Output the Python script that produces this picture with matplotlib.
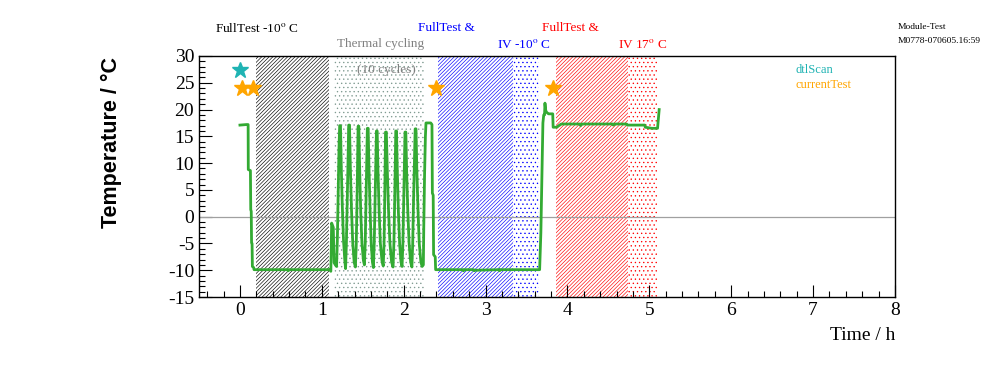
import matplotlib
matplotlib.use("Agg")
import matplotlib.pyplot as plt
from matplotlib.ticker import MultipleLocator

# ---------------- data ----------------
time_h = [0.00, 0.08, 0.10, 0.102, 0.128, 0.132, 0.138, 0.142, 0.148, 0.152, 0.168, 0.172,
          0.58, 0.59, 0.60, 1.10, 1.11, 1.12, 1.14, 1.15, 1.165,
          1.180, 1.190, 1.200, 1.210, 1.218, 1.228, 1.238, 1.250, 1.265, 1.280, 1.290,
          1.300, 1.312, 1.322, 1.328, 1.338, 1.348, 1.362, 1.378, 1.395, 1.410,
          1.420, 1.430, 1.438, 1.443, 1.452, 1.462, 1.475, 1.490, 1.508, 1.520,
          1.530, 1.540, 1.550, 1.556, 1.566, 1.576, 1.590, 1.603, 1.618, 1.630,
          1.640, 1.650, 1.660, 1.667, 1.676, 1.686, 1.700, 1.715, 1.735, 1.750,
          1.760, 1.768, 1.774, 1.778, 1.788, 1.800, 1.815, 1.832, 1.852, 1.870,
          1.880, 1.890, 1.898, 1.903, 1.912, 1.922, 1.935, 1.950, 1.967, 1.980,
          1.990, 2.000, 2.010, 2.016, 2.026, 2.036, 2.050, 2.066, 2.085, 2.100,
          2.110, 2.120, 2.132, 2.140, 2.150, 2.160, 2.175, 2.190, 2.210, 2.225,
          2.240, 2.245, 2.255, 2.265, 2.272, 2.330, 2.345, 2.350, 2.360, 2.365, 2.385, 2.390,
          2.72, 2.73, 2.74, 2.855, 2.86, 2.875, 3.165, 3.17, 3.18, 3.66,
          3.675, 3.690, 3.700, 3.710, 3.720, 3.725, 3.735, 3.745, 3.760, 3.770, 3.820,
          3.825, 3.870, 3.885, 3.925, 4.150, 4.160, 4.175, 4.55, 4.56, 4.57, 4.72, 4.73,
          4.945, 4.95, 5.03, 5.10, 5.12]
temp_c = [17.1, 17.2, 17.2, 8.8, 8.6, 1.3, 1.0, -4.9, -5.0, -9.3, -9.5, -9.9,
          -9.9, -10.1, -9.9, -9.9, -10.2, -1.2, -2.0, -8.6, -9.0,
          -9.3, -4.0, 5.0, 13.0, 17.0, 17.0, 9.0, 2.0, -4.5, -8.0, -9.7,
          -5.0, 4.0, 12.0, 17.1, 17.1, 9.5, 1.5, -5.0, -8.5, -9.4,
          -5.5, 3.0, 11.0, 16.9, 16.9, 9.0, 1.0, -5.0, -8.2, -9.0,
          -5.0, 3.5, 11.0, 16.5, 16.5, 9.0, 1.0, -5.0, -8.5, -9.5,
          -5.0, 3.0, 10.5, 16.0, 16.0, 8.5, 1.0, -5.0, -8.3, -9.2,
          -5.0, 3.0, 10.5, 15.8, 15.8, 8.5, 1.0, -5.0, -8.5, -9.4,
          -5.0, 3.0, 11.0, 16.0, 16.0, 8.5, 1.0, -5.0, -8.5, -9.3,
          -5.0, 3.0, 10.5, 15.8, 15.8, 8.5, 1.0, -5.0, -8.5, -9.4,
          -5.0, 3.0, 11.0, 16.4, 16.4, 9.0, 1.0, -5.0, -8.5, -9.3,
          -9.0, -2.0, 8.0, 15.0, 17.5, 17.5, 17.2, 4.4, 4.0, -7.1, -7.5, -9.9,
          -9.9, -10.1, -9.9, -9.9, -10.1, -10.0, -9.9, -10.1, -9.9, -9.9,
          -3.0, 10.0, 17.5, 19.0, 19.0, 21.2, 19.8, 19.5, 19.3, 19.2, 19.2,
          16.7, 16.7, 16.9, 17.3, 17.3, 17.0, 17.3, 17.3, 17.1, 17.3, 17.3, 17.1,
          17.1, 16.7, 16.5, 16.5, 20.0]

dtlscan_t = [0.00]
dtlscan_y = [27.4]
current_t = [0.02, 0.16, 2.40, 3.825]
current_y = [24.0, 24.0, 24.0, 24.0]

# shaded periods (start, end)
fulltest_m10 = (0.195, 1.087)
thermal_cyc = (1.148, 2.247)
blue_hatch = (2.418, 3.333)
blue_dots = (3.333, 3.65)
red_hatch = (3.858, 4.737)
red_dots = (4.737, 5.09)

x_range = (-0.5, 8.0)
y_range = (-15, 30)

# ---------------- style ----------------
plt.rcParams['font.family'] = ['Liberation Serif', 'DejaVu Serif']
plt.rcParams['mathtext.fontset'] = 'stix'
plt.rcParams['axes.unicode_minus'] = False
plt.rcParams['hatch.linewidth'] = 0.45

W, H = 996, 372
fig = plt.figure(figsize=(W / 100, H / 100), dpi=100)
ax = fig.add_axes([199 / W, 1 - 297 / H, (895 - 199) / W, (297 - 56) / H])

HATCH = '/' * 9
DOTS = '....'
ax.axvspan(*fulltest_m10, facecolor='none', edgecolor='black', hatch=HATCH, linewidth=0)
ax.axvspan(*thermal_cyc, facecolor='none', edgecolor='#7f9a90', hatch=DOTS, linewidth=0)
ax.axvspan(*blue_hatch, facecolor='none', edgecolor='blue', hatch=HATCH, linewidth=0)
ax.axvspan(*blue_dots, facecolor='none', edgecolor='blue', hatch=DOTS, linewidth=0)
ax.axvspan(*red_hatch, facecolor='none', edgecolor='red', hatch=HATCH, linewidth=0)
ax.axvspan(*red_dots, facecolor='none', edgecolor='red', hatch=DOTS, linewidth=0)

ax.axhline(0, color='#a0a0a0', linewidth=0.9, zorder=2)
ax.plot(time_h, temp_c, color='#33aa33', linewidth=2.0, zorder=3)
ax.plot(dtlscan_t, dtlscan_y, linestyle='none', marker='*', markersize=12,
        color='#1fb3b3', zorder=4)
ax.plot(current_t, current_y, linestyle='none', marker='*', markersize=12,
        color='#ffa500', zorder=4)

ax.set_xlim(*x_range)
ax.set_ylim(*y_range)
ax.xaxis.set_major_locator(MultipleLocator(1))
ax.xaxis.set_minor_locator(MultipleLocator(0.2))
ax.yaxis.set_major_locator(MultipleLocator(5))
ax.yaxis.set_minor_locator(MultipleLocator(1))
ax.tick_params(which='both', direction='in', top=False, right=False, labelsize=14)
ax.tick_params(which='major', length=9, width=0.8)
ax.tick_params(which='minor', length=4.5, width=0.8)
for s in ax.spines.values():
    s.set_linewidth(1.0)

ax.set_ylabel('Temperature / °C', family=['Liberation Sans', 'DejaVu Sans'],
              fontweight='bold', fontsize=15.5)
ax.yaxis.set_label_coords(-0.11, 0.643)
fig.text(895 / W, 1 - 335 / H, 'Time / h', ha='right', va='center', fontsize=14)


def ftext(x, y, s, color='black', size=9.5):
    fig.text(x / W, 1 - y / H, s, ha='left', va='center', color=color, fontsize=size)


ftext(215, 28, 'FullTest -10$^{\\rm o}$ C')
ftext(337, 44, 'Thermal cycling', color='#808080')
ftext(357, 70, '(10 cycles)', color='#808080')
ftext(418, 28, 'FullTest &', color='blue')
ftext(497, 44, 'IV -10$^{\\rm o}$ C', color='blue')
ftext(542, 28, 'FullTest &', color='red')
ftext(618, 44, 'IV 17$^{\\rm o}$ C', color='red')
ftext(796, 70, 'dtlScan', color='#1fb3b3', size=9)
ftext(796, 85, 'currentTest', color='#ffa500', size=9)
ftext(898, 27, 'Module-Test', size=6.8)
ftext(898, 41, 'M0778-070605.16:59', size=6.8)

fig.savefig('out.png', dpi=100)
